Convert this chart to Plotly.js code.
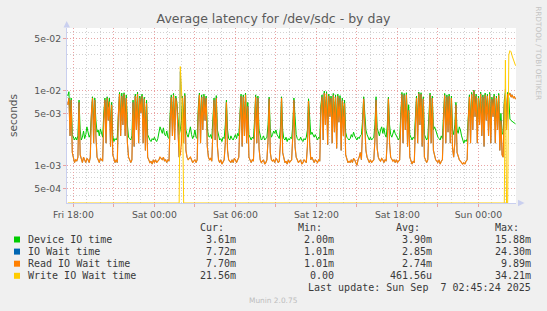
<!DOCTYPE html>
<html>
<head>
<meta charset="utf-8">
<script src="https://cdn.plot.ly/plotly-3.0.1.min.js"></script>
<style>
  html, body { margin: 0; padding: 0; background: #f0f0f0; }
  #chart { width: 547px; height: 311px; }
</style>
</head>
<body>
<div id="chart"></div>
<script>
// ---- Data (milliseconds), 5-minute samples from Fri 2025-09-05 17:35 to Sun 2025-09-07 02:45 ----
const sampleStart = "2025-09-05T17:35:00";
const sampleStepMinutes = 5;

const deviceIO = [
  8.5,9.7,4.0,8.0,2.6, 2.3,2.2,2.4,2.2, 2.5,7.5,3.0,
  2.2,2.4,2.9,2.3,2.6,3.3,2.7,2.4,2.6, 6.0,8.3,3.5,8.0,4.0,
  2.8,3.0,2.5,3.1,2.6,2.4, 5,8,3.5,8.3,6,8,3,7,
  2.5,2.1,2.3,2.2,2.4, 6,9.5,4,9.3,5,9.4,4.5,8.8,3.5,
  2.4,2.3,2.2,2.5, 7.5,3.0,9.0,4.5,9.6,3.5,8.5,6,9,3.5,8.2,3,7.5,
  2.6,2.3,2.2,2.1,2.3,2.2,2.4,2.2,2.1,2.3,2.9,3.3,
  3.0,2.7,3.2,2.6,2.5,2.9,2.4,2.3, 5,8.8,4,9.2,3.5,8.5,7,3.5,
  2.6,3.0,4.0,8.5,3.5,9.2,3.0,2.6, 2.4,2.8,3.3,2.6,2.3,2.5,3.0,2.4,2.3,
  6,9.3,3.5,8.8,4,9,5,8.5,3.2, 2.5,2.4,2.6,2.3, 4,8.0,3.5,8.6,3.0,
  2.4,2.2,2.3,2.1,2.4,2.3, 3.5,7.5,3.0,
  2.3,2.2,2.5,2.3,2.2,2.4,2.6,2.3,2.7,2.5, 5,9.0,3,8.8,4,9.3,3.5,7,
  2.6,2.3,2.2,2.4,2.3, 4,8.8,3.5,8.5,3.0, 2.4,2.2,2.3,2.5,2.2,2.3,2.4,
  3.5,8.2,3.0, 2.4,2.6,2.9,2.7,3.0,2.6,2.4,2.3, 3.2,8.3,3.0,
  2.3,2.2,2.4,2.1,2.3,2.2,2.4,2.3, 3.5,8.0,4.0,2.6,
  2.3,2.2,2.2,2.4,2.2,2.1,2.3,2.2,2.4, 3,7.8,3.5,
  2.6,2.8,2.5,2.4,2.6,2.3,2.2,2.4,2.3,
  6.5,8.8,4.0,9.9,5,9.7,3.5,9.0,6,8.5,3.8,9.2,4.5,8.8,3.5,9.0,5.5,8.6,3.2,8.0,4.5,7.5,
  2.8,2.4,2.3,2.2,2.3,2.6,2.4,2.8,2.5,2.3,2.2,2.4,2.3,2.5,2.6,
  4,8.3,5,3.0, 2.6,2.3,2.2,2.4,2.2,2.3,2.4, 3.5,8.3,3.2,2.7,
  2.5,3.0,3.3,2.7,3.2,2.6,2.4, 3.5,8.2,3.5,2.6,
  2.4,2.8,3.0,2.7,2.5,2.3,2.2,2.4, 5,9.5,3.5,9.2,4.5,9.4,3.5,6.5,
  2.6,2.3,2.2,2.4,2.3, 4.5,8.5,3.5,9.6,5,9.4,3.5,8.3,
  2.6,2.3,2.2,2.4, 4,9.3,3.5,8.5,3.0, 3.3,3.0,2.6,2.4,2.3,2.2,2.5,2.3,
  5,9.2,3.5,8.8,4,9.0,3.5,8.5,3, 2.6,3.5,7.0,3.0,
  2.7,3.3,3.0,2.5,2.2,2.0,2.2,2.1,2.3,
  5,8.8,3.5,9.5,4.5,10.2,6,9.0,3.5,8.5,5,9.6,4,8.8,3.2,9.3,5.5,9.0,4,9.5,3.5,8.2,6,9.0,3.5,8.5,4.5,9.2,3.0,5.0,2.8,
  2.6,7.5,9.3,4.0,9.5,8.0,4.2,4.0,3.9,3.8,3.7,3.61
];

const ioWait = [
  6.5,8.0,2.5,7.5,1.5, 1.2,1.1,1.2,1.15, 1.3,7.0,1.4,
  1.2,1.1,1.3,1.2,1.1,1.25,1.2,1.1,1.3, 5.0,8.0,2.0,7.5,2.5,
  1.3,1.2,1.1,1.25,1.2,1.15, 4,7.5,2,8,4,7.2,1.8,6.5,
  1.4,1.2,1.1,1.2,1.1, 5,9,2.5,8.5,3.5,9,2.5,8,2.0,
  1.3,1.2,1.1,1.2, 7.0,1.8,8.5,3,9,2,8,5,8.5,2,7.8,1.6,6.8,
  1.3,1.2,1.1,1.15,1.05,1.2,1.1,1.2,1.1,1.15,1.2,1.3,
  1.25,1.2,1.3,1.15,1.2,1.1,1.2,1.15, 4,8.2,2.5,8.7,2.2,8,6.2,2.2,
  1.3,18,8,8.0,2.0,8.6,1.6,1.3, 1.2,1.25,1.3,1.2,1.1,1.15,1.2,1.1,1.2,
  5,8.8,2,8.2,3,8.5,4,8,1.8, 1.3,1.2,1.25,1.15, 3,7.5,2.2,8,1.8,
  1.2,1.1,1.2,1.05,1.15,1.2, 2.0,7.0,1.6,
  1.2,1.15,1.1,1.2,1.1,1.25,1.2,1.1,1.2,1.3, 4,8.5,1.8,8.3,2.5,8.8,2,6.2,
  1.3,1.2,1.1,1.2,1.15, 3,8.3,2,8,1.7, 1.2,1.1,1.15,1.2,1.05,1.1,1.2,
  2.2,7.8,1.5, 1.2,1.15,1.2,1.1,1.25,1.2,1.1,1.15, 2.0,8.0,1.5,
  1.2,1.1,1.15,1.05,1.2,1.1,1.15,1.2, 2.5,7.5,1.8,1.3,
  1.2,1.1,1.15,1.2,1.05,1.1,1.2,1.15,1.1, 1.8,7.3,2.0,
  1.2,1.3,1.2,1.1,1.2,1.15,1.1,1.2,1.15,
  5.5,8.3,2.2,9.3,3.5,9.2,1.9,8.5,4.5,8.0,2.0,8.7,2.8,8.2,1.7,8.5,3.8,8.0,1.6,7.4,2.5,6.8,
  1.4,1.2,1.1,1.15,1.1,1.2,1.1,1.25,1.2,1.1,1.01,1.2,1.3,1.5,1.2,
  3,7.8,3.5,1.6, 1.3,1.2,1.1,1.2,1.1,1.15,1.2, 2.2,7.6,1.7,1.3,
  1.2,1.15,1.25,1.2,1.1,1.2,1.15, 2.3,7.8,2.0,1.3,
  1.2,1.15,1.2,1.1,1.2,1.1,1.15,1.2, 4,9.0,2,8.7,3,8.9,1.8,5.5,
  1.3,1.2,1.05,1.15,1.1, 3.5,8,2,9.2,3.5,9,1.8,7.8,
  1.3,1.2,1.1,1.2, 3,8.8,2,8,1.6, 1.3,1.2,1.15,1.1,1.2,1.05,1.15,1.2,
  4,8.7,2,8.3,2.8,8.5,2,8,1.7, 1.3,2.0,6.5,1.5,
  1.3,1.2,1.15,1.1,1.05,1.1,1.05,1.15,1.2,
  4,8.3,2,9,3,9.89,4.5,8.5,2,8,3.5,9.1,2.5,8.3,1.8,8.8,4,8.5,2.5,9,2,7.7,4.5,8.5,2,8,3,8.7,1.6,4.0,1.4,
  1.3,6.5,10.5,3.0,9.0,8.75,9.35,8.25,8.85,8.05,8.33,7.72
];

const readIO = [
  6.5,8.0,2.5,7.5,1.5, 1.2,1.1,1.2,1.15, 1.3,7.0,1.4,
  1.2,1.1,1.3,1.2,1.1,1.25,1.2,1.1,1.3, 5.0,8.0,2.0,7.5,2.5,
  1.3,1.2,1.1,1.25,1.2,1.15, 4,7.5,2,8,4,7.2,1.8,6.5,
  1.4,1.2,1.1,1.2,1.1, 5,9,2.5,8.5,3.5,9,2.5,8,2.0,
  1.3,1.2,1.1,1.2, 7.0,1.8,8.5,3,9,2,8,5,8.5,2,7.8,1.6,6.8,
  1.3,1.2,1.1,1.15,1.05,1.2,1.1,1.2,1.1,1.15,1.2,1.3,
  1.25,1.2,1.3,1.15,1.2,1.1,1.2,1.15, 4,8.2,2.5,8.7,2.2,8,6.2,2.2,
  1.3,1.4,2.0,8.0,2.0,8.6,1.6,1.3, 1.2,1.25,1.3,1.2,1.1,1.15,1.2,1.1,1.2,
  5,8.8,2,8.2,3,8.5,4,8,1.8, 1.3,1.2,1.25,1.15, 3,7.5,2.2,8,1.8,
  1.2,1.1,1.2,1.05,1.15,1.2, 2.0,7.0,1.6,
  1.2,1.15,1.1,1.2,1.1,1.25,1.2,1.1,1.2,1.3, 4,8.5,1.8,8.3,2.5,8.8,2,6.2,
  1.3,1.2,1.1,1.2,1.15, 3,8.3,2,8,1.7, 1.2,1.1,1.15,1.2,1.05,1.1,1.2,
  2.2,7.8,1.5, 1.2,1.15,1.2,1.1,1.25,1.2,1.1,1.15, 2.0,8.0,1.5,
  1.2,1.1,1.15,1.05,1.2,1.1,1.15,1.2, 2.5,7.5,1.8,1.3,
  1.2,1.1,1.15,1.2,1.05,1.1,1.2,1.15,1.1, 1.8,7.3,2.0,
  1.2,1.3,1.2,1.1,1.2,1.15,1.1,1.2,1.15,
  5.5,8.3,2.2,9.3,3.5,9.2,1.9,8.5,4.5,8.0,2.0,8.7,2.8,8.2,1.7,8.5,3.8,8.0,1.6,7.4,2.5,6.8,
  1.4,1.2,1.1,1.15,1.1,1.2,1.1,1.25,1.2,1.1,1.01,1.2,1.3,1.5,1.2,
  3,7.8,3.5,1.6, 1.3,1.2,1.1,1.2,1.1,1.15,1.2, 2.2,7.6,1.7,1.3,
  1.2,1.15,1.25,1.2,1.1,1.2,1.15, 2.3,7.8,2.0,1.3,
  1.2,1.15,1.2,1.1,1.2,1.1,1.15,1.2, 4,9.0,2,8.7,3,8.9,1.8,5.5,
  1.3,1.2,1.05,1.15,1.1, 3.5,8,2,9.2,3.5,9,1.8,7.8,
  1.3,1.2,1.1,1.2, 3,8.8,2,8,1.6, 1.3,1.2,1.15,1.1,1.2,1.05,1.15,1.2,
  4,8.7,2,8.3,2.8,8.5,2,8,1.7, 1.3,2.0,6.5,1.5,
  1.3,1.2,1.15,1.1,1.05,1.1,1.05,1.15,1.2,
  4,8.3,2,9,3,9.89,4.5,8.5,2,8,3.5,9.1,2.5,8.3,1.8,8.8,4,8.5,2.5,9,2,7.7,4.5,8.5,2,8,3,8.7,1.6,4.0,1.4,
  1.3,6.5,8.5,3.0,9.0,8.7,9.3,8.2,8.8,8.0,8.3,7.70
];

const writeIO = [
  0,0,0,0,0,0,0,0,0,0,0,0,0,0,0,0,0,0,0,0,
  0,0,0,0,0,0,0,0,0,0,0,0,0,0,0,0,0,0,0,0,
  0,0,0,0,0,0,0,0,0,0,0,0,0,0,0,0,0,0,0,0,
  0,0,0,0,0,0,0,0,0,0,0,0,0,0,0,0,0,0,0,0,
  0,0,0,0,0,0,0,0,0,0,0,0,0,0,0,0,0,0,0,0,
  21,10,5.5,
  0,0,0,0,0,0,0,0,0,0,0,0,0,0,0,0,0,0,0,0,
  0,0,0,0,0,0,0,0,0,0,0,0,0,0,0,0,0,0,0,0,
  0,0,0,0,0,0,0,0,0,0,0,0,0,0,0,0,0,0,0,0,
  0,0,0,0,0,0,0,0,0,0,0,0,0,0,0,0,0,0,0,0,
  0,0,0,0,0,0,0,0,0,0,0,0,0,0,0,0,0,0,0,0,
  0,0,0,0,0,0,0,0,0,0,0,0,0,0,0,0,0,0,0,0,
  0,0,0,0,0,0,0,0,0,0,0,0,0,0,0,0,0,0,0,0,
  0,0,0,0,0,0,0,0,0,0,0,0,0,0,0,0,0,0,0,0,
  0,0,0,0,0,0,0,0,0,0,0,0,0,0,0,0,0,0,0,0,
  0,0,0,0,0,0,0,0,0,0,0,0,0,0,0,0,0,0,0,0,
  0,0,0,0,0,0,0,0,0,0,0,0,0,0,0,0,0,0,0,0,
  0,0,0,0,0,0,0,0,0,0,0,0,0,0,0,0,0,0,0,0,
  0,0,0,0,0,0,0,0,0,0,0,0,0,0,0,0,0,0,0,0,
  0,0,0,0,0,0,0,0,0,0,0,0,0,0,0,0,0,0,0,0,
  0,0,0,0,0,0,
  25.6, 0,0, 30,34.21,33,29,26,23.5,21.56
];

// Legend table (as shown)
const seriesNames = ["Device IO time", "IO Wait time", "Read IO Wait time", "Write IO Wait time"];
const curText = ["3.61m", "7.72m", "7.70m", "21.56m"];
const minText = ["2.00m", "1.01m", "1.01m", "0.00"];
const avgText = ["3.90m", "2.85m", "2.74m", "461.56u"];
const maxText = ["15.88m", "24.30m", "9.89m", "34.21m"];
const lastUpdate = "Last update: Sun Sep\u00a0 7 02:45:24 2025";

// Axis ticks
const xTickVals = ["2025-09-05 18:00","2025-09-05 21:00","2025-09-06 00:00","2025-09-06 03:00",
  "2025-09-06 06:00","2025-09-06 09:00","2025-09-06 12:00","2025-09-06 15:00",
  "2025-09-06 18:00","2025-09-06 21:00","2025-09-07 00:00"];
const xTickText = ["Fri 18:00","","Sat 00:00","","Sat 06:00","","Sat 12:00","","Sat 18:00","","Sun 00:00"];
const yTickVals = [5e-4, 1e-3, 5e-3, 1e-2, 5e-2];
const yTickText = ["5e-04", "1e-03", "5e-03", "1e-02", "5e-02"];
const yMinorVals = [4e-4,6e-4,7e-4,8e-4,9e-4, 2e-3,3e-3,4e-3,6e-3,7e-3,8e-3,9e-3, 2e-2,3e-2,4e-2,6e-2];

// ---- Build ----
const colors = ["#00cc00", "#0066b3", "#ff8000", "#ffcc00"];
const widths = [1, 0.7, 1.15, 1];
const yRange = [-3.497, -1.164];
const xRange = ["2025-09-05 17:31:30", "2025-09-07 02:47:00"];
const yFloor = Math.pow(10, yRange[0]);

const t0 = Date.parse(sampleStart + "Z");
const times = deviceIO.map((_, i) => t0 + i * sampleStepMinutes * 60000);
const toSec = arr => arr.map(v => v * 1e-3);
const toSecFloor = arr => arr.map(v => (v > 0 ? v * 1e-3 : yFloor));

const seriesData = [toSec(deviceIO), toSec(ioWait), toSec(readIO), toSecFloor(writeIO)];
const traces = seriesData.map((ys, k) => ({
  type: "scatter", mode: "lines", x: times, y: ys,
  line: { color: colors[k], width: widths[k] },
  hoverinfo: "skip", name: seriesNames[k]
}));

// pixel -> paper helpers
const L = 67, T = 28, PW = 449, PH = 175, BOT = T + PH;
const px = x => (x - L) / PW;
const py = y => (BOT - y) / PH;

const mono = "DejaVu Sans Mono";
const legendColor = "#3a3a3a";
const annotations = [];
function txt(text, x, y, xanchor, font, extra) {
  annotations.push(Object.assign({
    text: text, x: px(x), y: py(y), xref: "paper", yref: "paper",
    xanchor: xanchor, yanchor: "middle", showarrow: false, font: font
  }, extra || {}));
}
const lf = { family: mono, size: 10, color: legendColor };
const headerY = 227.8;
txt("Cur:", 226, headerY, "right", lf);
txt("Min:", 324, headerY, "right", lf);
txt("Avg:", 422, headerY, "right", lf);
txt("Max:", 520.6, headerY, "right", lf);
const rowY = [239.5, 251.6, 263.7, 275.8];
const shapes = [];
seriesNames.forEach((n, k) => {
  txt(n, 26, rowY[k], "left", lf);
  txt(curText[k], 238, rowY[k], "right", lf);
  txt(minText[k], 336, rowY[k], "right", lf);
  txt(avgText[k], 434, rowY[k], "right", lf);
  txt(maxText[k], 533, rowY[k], "right", lf);
  shapes.push({ type: "rect", xref: "paper", yref: "paper",
    x0: px(14), x1: px(20), y0: py(rowY[k] + 3), y1: py(rowY[k] - 3),
    fillcolor: colors[k], line: { width: 0 } });
});
txt(lastUpdate, 533, 287.6, "right", lf);
txt("Munin 2.0.75", 273.5, 300, "center", { family: "DejaVu Sans", size: 7.4, color: "#bdbdbd" });
txt("RRDTOOL / TOBI OETIKER", 538.3, 53.5, "center", { family: "DejaVu Sans", size: 7.3, color: "#c4c4c4" }, { textangle: 90 });

const axisColor = "#c9cfef";
// axis arrows
shapes.push({ type: "path", xref: "paper", yref: "paper",
  path: `M ${px(63.5)} ${py(27.5)} L ${px(66.7)} ${py(21)} L ${px(70)} ${py(27.5)} Z`,
  fillcolor: axisColor, line: { width: 0 } });
shapes.push({ type: "path", xref: "paper", yref: "paper",
  path: `M ${px(518)} ${py(199.8)} L ${px(524.5)} ${py(203)} L ${px(518)} ${py(206.2)} Z`,
  fillcolor: axisColor, line: { width: 0 } });

const majorGrid = "#e9a3a3";
const minorGrid = "#d2d2d2";
const dash = "1px,2px";

const layout = {
  width: 547, height: 311,
  paper_bgcolor: "#f0f0f0", plot_bgcolor: "#ffffff",
  margin: { l: L, r: 547 - L - PW, t: T, b: 311 - BOT },
  showlegend: false,
  font: { family: "DejaVu Sans", size: 9.3, color: "#555555" },
  title: {
    text: "Average latency for /dev/sdc - by day",
    font: { family: "DejaVu Sans", size: 12.5, color: "#5a5a5a" },
    x: 0.5, xref: "container", xanchor: "center",
    y: 1 - 19 / 311, yref: "container", yanchor: "middle"
  },
  xaxis: {
    type: "date", range: xRange, fixedrange: true,
    tickmode: "array", tickvals: xTickVals, ticktext: xTickText,
    showgrid: true, gridcolor: majorGrid, griddash: dash, gridwidth: 1,
    ticks: "outside", ticklen: 3, tickcolor: majorGrid,
    showline: true, linecolor: axisColor, linewidth: 1, zeroline: false,
    tickfont: { family: "DejaVu Sans", size: 9.3, color: "#555555" },
    minor: { tickmode: "linear", tick0: "2025-09-05 18:00", dtick: 3600000,
      showgrid: true, gridcolor: minorGrid, griddash: dash, ticks: "" }
  },
  yaxis: {
    type: "log", range: yRange, fixedrange: true,
    tickmode: "array", tickvals: yTickVals, ticktext: yTickText,
    showgrid: true, gridcolor: majorGrid, griddash: dash, gridwidth: 1,
    ticks: "outside", ticklen: 3, tickcolor: majorGrid,
    showline: true, linecolor: axisColor, linewidth: 1, zeroline: false,
    tickfont: { family: "DejaVu Sans", size: 9.3, color: "#555555" },
    minor: { tickvals: yMinorVals, showgrid: true, gridcolor: minorGrid, griddash: dash, ticks: "" },
    title: { text: "seconds", font: { family: "DejaVu Sans", size: 10.5, color: "#555555" }, standoff: 14 }
  },
  annotations: annotations,
  shapes: shapes
};

Plotly.newPlot("chart", traces, layout, { staticPlot: true, displayModeBar: false });
</script>
</body>
</html>
